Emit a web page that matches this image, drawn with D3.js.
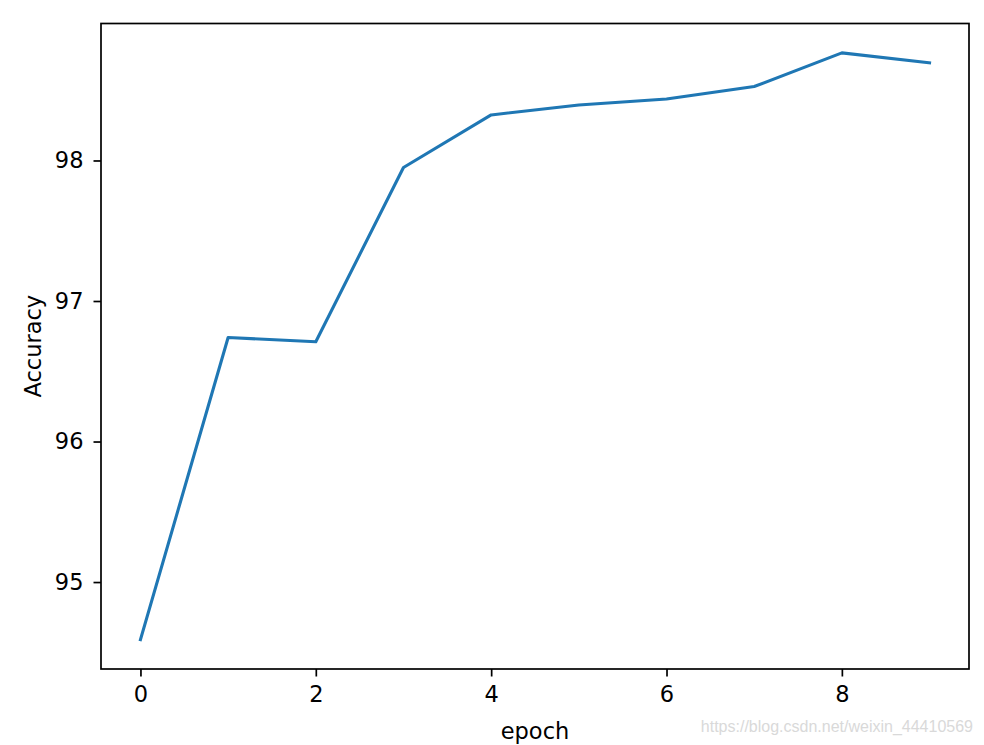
<!DOCTYPE html>
<html><head><meta charset="utf-8">
<script src="https://cdn.jsdelivr.net/npm/d3@7"></script>
<style>body{margin:0;background:#fff;}svg{display:block;}</style>
</head><body>
<script>
const epochs = [0,1,2,3,4,5,6,7,8,9];
const accuracy = [94.59,96.74,96.71,97.95,98.324,98.395,98.437,98.526,98.766,98.695];
const xTicks = [0,2,4,6,8];
const yTicks = [95,96,97,98];
const xLabel = "epoch";
const yLabel = "Accuracy";
const watermark = "https://blog.csdn.net/weixin_44410569";

const W = 984, H = 745;
const m = {left:101, right:984-969, top:23.5, bottom:745-669};
const svg = d3.select("body").append("svg").attr("width",W).attr("height",H);

const x = d3.scaleLinear().domain([-0.45,9.45]).range([m.left, W-m.right]);
const ymin = d3.min(accuracy), ymax = d3.max(accuracy), pad = (ymax-ymin)*0.05;
const y = d3.scaleLinear().domain([ymin-pad, ymax+pad]).range([H-m.bottom, m.top]);

const font = "DejaVu Sans";
const fs = 22.5;

const line = d3.line().x((d,i)=>x(epochs[i])).y(d=>y(d));
svg.append("path").datum(accuracy).attr("d",line)
  .attr("fill","none").attr("stroke","#1f77b4").attr("stroke-width",3.1)
  .attr("stroke-linejoin","round").attr("stroke-linecap","square");

const xAxis = svg.append("g").attr("transform",`translate(0,${H-m.bottom})`)
  .call(d3.axisBottom(x).tickValues(xTicks).tickSize(7.5).tickPadding(10).tickFormat(d3.format("d")));
const yAxis = svg.append("g").attr("transform",`translate(${m.left},0)`)
  .call(d3.axisLeft(y).tickValues(yTicks).tickSize(7.5).tickPadding(10).tickFormat(d3.format("d")));
[xAxis,yAxis].forEach(g=>{
  g.select(".domain").remove();
  g.selectAll(".tick line").attr("stroke","#000").attr("stroke-width",1.7);
  g.selectAll(".tick text").attr("font-family",font).attr("font-size",fs).attr("fill","#000");
});

svg.append("rect").attr("x",m.left).attr("y",m.top)
  .attr("width",W-m.right-m.left).attr("height",H-m.bottom-m.top)
  .attr("fill","none").attr("stroke","#000").attr("stroke-width",1.7);

svg.append("text").attr("x",(m.left+W-m.right)/2).attr("y",739)
  .attr("text-anchor","middle").attr("font-family",font).attr("font-size",fs).text(xLabel);
svg.append("text").attr("transform",`translate(41,${(m.top+H-m.bottom)/2}) rotate(-90)`)
  .attr("text-anchor","middle").attr("font-family",font).attr("font-size",fs).text(yLabel);

svg.append("text").attr("x",973).attr("y",732).attr("text-anchor","end")
  .attr("font-family","Liberation Sans").attr("font-size",16).attr("fill","#d9d9d9")
  .text(watermark);
</script>
</body></html>
